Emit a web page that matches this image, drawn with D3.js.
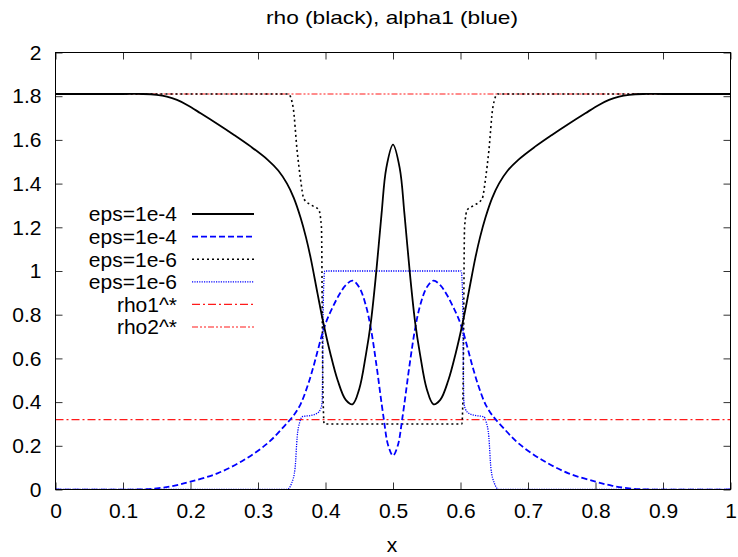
<!DOCTYPE html>
<html>
<head>
<meta charset="UTF-8">
<script src="https://d3js.org/d3.v7.min.js"></script>
<style>
  body { margin: 0; background: #fff; }
  svg text { font-family: "Liberation Sans", Arial, Helvetica, sans-serif; fill: #000; }
</style>
</head>
<body>
<div id="chart"></div>
<script>
// rho, eps=1e-4 (black solid)
var rhoA_x = [0, 0.1, 0.13, 0.15, 0.165, 0.18, 0.195, 0.215, 0.24, 0.264, 0.29, 0.314, 0.33, 0.343, 0.353, 0.363, 0.371, 0.378, 0.388, 0.397, 0.407, 0.418, 0.43, 0.44, 0.45, 0.46, 0.467, 0.475, 0.483, 0.49, 0.5,
              0.51, 0.517, 0.525, 0.533, 0.54, 0.55, 0.56, 0.57, 0.582, 0.593, 0.603, 0.612, 0.622, 0.629, 0.637, 0.647, 0.657, 0.67, 0.686, 0.71, 0.736, 0.76, 0.785, 0.805, 0.82, 0.835, 0.85, 0.87, 0.9, 1];
var rhoA_y = [1.81, 1.81, 1.81, 1.806, 1.798, 1.783, 1.76, 1.722, 1.673, 1.624, 1.568, 1.51, 1.46, 1.40, 1.335, 1.245, 1.155, 1.06, 0.9, 0.76, 0.625, 0.5, 0.41, 0.39, 0.46, 0.62, 0.76, 0.99, 1.26, 1.47, 1.578,
              1.47, 1.26, 0.99, 0.76, 0.62, 0.46, 0.39, 0.41, 0.5, 0.625, 0.76, 0.9, 1.06, 1.155, 1.245, 1.335, 1.40, 1.46, 1.51, 1.568, 1.624, 1.673, 1.722, 1.76, 1.783, 1.798, 1.806, 1.81, 1.81, 1.81];

// alpha1, eps=1e-4 (blue dashed)
var alphaA_x = [0, 0.12, 0.15, 0.175, 0.2, 0.24, 0.279, 0.314, 0.338, 0.353, 0.363, 0.373, 0.381, 0.388, 0.395, 0.402, 0.41, 0.42, 0.43, 0.44, 0.45, 0.46, 0.467, 0.475, 0.486, 0.493, 0.5,
                0.507, 0.514, 0.525, 0.533, 0.54, 0.55, 0.56, 0.57, 0.58, 0.59, 0.598, 0.605, 0.612, 0.619, 0.627, 0.637, 0.647, 0.662, 0.686, 0.721, 0.76, 0.8, 0.825, 0.85, 0.88, 1];
var alphaA_y = [0, 0, 0.005, 0.017, 0.036, 0.074, 0.135, 0.211, 0.287, 0.34, 0.39, 0.47, 0.55, 0.63, 0.71, 0.775, 0.83, 0.89, 0.935, 0.956, 0.925, 0.84, 0.74, 0.58, 0.33, 0.2, 0.155,
                0.2, 0.33, 0.58, 0.74, 0.84, 0.925, 0.956, 0.935, 0.89, 0.83, 0.775, 0.71, 0.63, 0.55, 0.47, 0.39, 0.34, 0.287, 0.211, 0.135, 0.074, 0.036, 0.017, 0.005, 0, 0];

// rho, eps=1e-6 (black dotted)
var rhoB_x = [0, 0.345, 0.352, 0.358, 0.363, 0.368, 0.38, 0.39, 0.394, 0.396, 0.398, 0.5,
              0.602, 0.604, 0.606, 0.61, 0.62, 0.632, 0.637, 0.642, 0.648, 0.655, 1];
var rhoB_y = [1.81, 1.81, 1.75, 1.55, 1.42, 1.33, 1.3, 1.28, 1.2, 0.5, 0.3, 0.3,
              0.3, 0.5, 1.2, 1.28, 1.3, 1.33, 1.42, 1.55, 1.75, 1.81, 1.81];

// alpha1, eps=1e-6 (blue dotted)
var alphaB_x = [0, 0.343, 0.35, 0.355, 0.358, 0.362, 0.3654, 0.38, 0.3877, 0.393, 0.395, 0.397, 0.399, 0.5,
                0.601, 0.603, 0.605, 0.607, 0.6123, 0.62, 0.6346, 0.638, 0.642, 0.645, 0.65, 0.657, 1];
var alphaB_y = [0, 0, 0.03, 0.1, 0.24, 0.31, 0.333, 0.34, 0.349, 0.37, 0.4, 0.9, 1.0, 1.0,
                1.0, 0.9, 0.4, 0.37, 0.349, 0.34, 0.333, 0.31, 0.24, 0.1, 0.03, 0, 0];

var rho1Star = 0.32;
var rho2Star = 1.81;

var xTicks = [0, 0.1, 0.2, 0.3, 0.4, 0.5, 0.6, 0.7, 0.8, 0.9, 1];
var yTicks = [0, 0.2, 0.4, 0.6, 0.8, 1, 1.2, 1.4, 1.6, 1.8, 2];

var legendLabels = ["eps=1e-4", "eps=1e-4", "eps=1e-6", "eps=1e-6", "rho1^*", "rho2^*"];

var width = 738, height = 557;
var mLeft = 55.5, mRight = 730.5, mTop = 52.5, mBottom = 489.5;

var svg = d3.select("#chart").append("svg")
    .attr("width", width)
    .attr("height", height);

var xscale = d3.scaleLinear().domain([0, 1]).range([mLeft, mRight]);
var yscale = d3.scaleLinear().domain([0, 2]).range([mBottom, mTop]);

svg.append("defs").append("clipPath").attr("id", "clip")
    .append("rect")
    .attr("x", mLeft).attr("y", mTop)
    .attr("width", mRight - mLeft).attr("height", mBottom - mTop);

var fmt = d3.format("");
var tickLen = 7;

// axes (ticks point inward, mirrored on top/right)
var xaxis = d3.axisBottom(xscale).tickValues(xTicks).tickSizeInner(-tickLen).tickSizeOuter(0).tickPadding(14).tickFormat(fmt);
var yaxis = d3.axisLeft(yscale).tickValues(yTicks).tickSizeInner(-tickLen).tickSizeOuter(0).tickPadding(14).tickFormat(fmt);
var xtop = d3.axisTop(xscale).tickValues(xTicks).tickSizeInner(-tickLen).tickSizeOuter(0).tickFormat("");
var yright = d3.axisRight(yscale).tickValues(yTicks).tickSizeInner(-tickLen).tickSizeOuter(0).tickFormat("");

function styleAxis(g) {
    g.select(".domain").remove();
    g.selectAll("line").attr("stroke", "#333");
    g.selectAll("text").style("font-size", "21px").attr("fill", "#000");
}

svg.append("g").attr("transform", "translate(0," + mBottom + ")").call(xaxis).call(styleAxis);
svg.append("g").attr("transform", "translate(" + mLeft + ",0)").call(yaxis).call(styleAxis);
svg.append("g").attr("transform", "translate(0," + mTop + ")").call(xtop).call(styleAxis);
svg.append("g").attr("transform", "translate(" + mRight + ",0)").call(yright).call(styleAxis);

var plot = svg.append("g").attr("clip-path", "url(#clip)");

function series(xs, ys) {
    return xs.map(function(x, i) { return [x, ys[i]]; });
}

// smooth curves for eps=1e-4, monotone for the sharp eps=1e-6 steps
var smoothLine = d3.line()
    .x(d => xscale(d[0]))
    .y(d => yscale(d[1]))
    .curve(d3.curveCatmullRom.alpha(0.5));

var stepLine = d3.line()
    .x(d => xscale(d[0]))
    .y(d => yscale(d[1]))
    .curve(d3.curveMonotoneX);

var styles = [
    { color: "#ff1a1a", width: 1.2, dash: "6,2,2,2,2,2" },   // rho2*
    { color: "#ff1a1a", width: 1.1, dash: "8,3,2,3" },       // rho1*
    { color: "#0000ff", width: 1.3, dash: "1.2,1.2" },       // alpha eps=1e-6
    { color: "#000000", width: 1.6, dash: "2,3" },           // rho eps=1e-6
    { color: "#0000ff", width: 1.8, dash: "6,3" },           // alpha eps=1e-4
    { color: "#000000", width: 1.8, dash: null }             // rho eps=1e-4
];

var hline = function(v) { return series([0, 1], [v, v]); };

var drawData = [
    [hline(rho2Star), stepLine],
    [hline(rho1Star), stepLine],
    [series(alphaB_x, alphaB_y), stepLine],
    [series(rhoB_x, rhoB_y), stepLine],
    [series(alphaA_x, alphaA_y), smoothLine],
    [series(rhoA_x, rhoA_y), smoothLine]
];

drawData.forEach(function(d, i) {
    plot.append("path")
        .datum(d[0])
        .attr("fill", "none")
        .attr("stroke", styles[i].color)
        .attr("stroke-width", styles[i].width)
        .attr("stroke-dasharray", styles[i].dash)
        .attr("d", d[1]);
});

// frame
svg.append("rect")
    .attr("x", mLeft).attr("y", mTop)
    .attr("width", mRight - mLeft).attr("height", mBottom - mTop)
    .attr("fill", "none").attr("stroke", "#000").attr("stroke-width", 1);

// legend
var legendStyles = [styles[5], styles[4], styles[3], styles[2], styles[1], styles[0]];
var lg = svg.append("g");
legendLabels.forEach(function(t, i) {
    var y = 214 + i * 22.6;
    lg.append("text")
        .attr("x", 177).attr("y", y)
        .attr("dy", "0.35em")
        .attr("text-anchor", "end")
        .style("font-size", "21px")
        .text(t);
    lg.append("line")
        .attr("x1", 192).attr("x2", 254)
        .attr("y1", y).attr("y2", y)
        .attr("stroke", legendStyles[i].color)
        .attr("stroke-width", legendStyles[i].width)
        .attr("stroke-dasharray", legendStyles[i].dash);
});

// title and axis label
svg.append("text")
    .attr("x", 392).attr("y", 24)
    .attr("text-anchor", "middle")
    .style("font-size", "19px")
    .attr("textLength", 252)
    .attr("lengthAdjust", "spacingAndGlyphs")
    .text("rho (black), alpha1 (blue)");

svg.append("text")
    .attr("x", 392).attr("y", 552)
    .attr("text-anchor", "middle")
    .style("font-size", "21px")
    .text("x");
</script>
</body>
</html>
